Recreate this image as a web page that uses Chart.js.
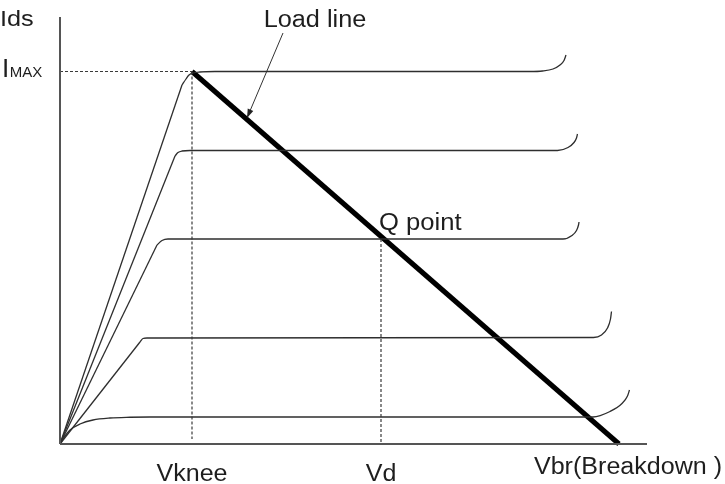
<!DOCTYPE html>
<html>
<head>
<meta charset="utf-8">
<script src="https://cdn.jsdelivr.net/npm/chart.js@4.4.1/dist/chart.umd.min.js"></script>
<style>
  html, body { margin: 0; padding: 0; background: #ffffff; }
  #wrap { width: 725px; height: 484px; }
</style>
</head>
<body>
<div id="wrap"><canvas id="c" width="725" height="484"></canvas></div>
<script>
// ---- Data (arbitrary voltage / current units) ----
const xMax = 117.4;          // drain voltage axis extent
const yMax = 85.4;           // drain current axis extent
const vKnee = 26.4;          // knee voltage
const iMax = 74.5;           // maximum current
const vD = 64.2;             // quiescent drain voltage
const iQ = 41.0;             // quiescent current (Q point level)
const vBr = 111.8;           // breakdown voltage (load line end)

// I-V curves, one per gate voltage: [Vds, Ids]
// linear (ohmic) rise of each curve
const riseTop = [[0,0],[24.4,71.8]];
const rise2   = [[0,0],[23.0,57.6]];
const rise3   = [[0,0],[19.4,39.8]];
const rise4   = [[0,0],[16.0,20.4]];
// knee, saturation plateau and breakdown hook
const satTop = [[24.4,71.8],[25.2,73.0],[25.8,73.8],[26.6,74.2],[28,74.4],[31,74.5],[94,74.5],[96.5,74.6],[98.6,75.0],[100.0,75.8],[100.8,76.7],[101.2,77.8]];
const sat2   = [[23.0,57.6],[23.6,58.3],[24.4,58.6],[26,58.7],[99.5,58.7],[101.6,59.3],[102.8,60.3],[103.3,61.2],[103.5,62.0]];
const sat3   = [[19.4,39.8],[20.4,40.7],[21.6,41.0],[23,41.0],[100.6,41.0],[102.4,41.7],[103.3,42.7],[103.7,43.8],[103.8,44.4]];
const sat4   = [[16.0,20.4],[16.6,21.1],[17.4,21.2],[19,21.2],[106.7,21.3],[108.3,21.8],[109.5,23.2],[110.1,25.0],[110.3,26.5]];
const curve5 = [[0,0],[1,1.6],[2,2.8],[4,4.0],[6.6,4.8],[10,5.2],[14,5.35],[18,5.4],[106.6,5.4],[110,6.5],[112.4,8.1],[113.5,9.6],[113.9,10.8]];

// Annotation arrow for the load line label: [start, end]
const arrowPts = [[44.6,82.2],[37.4,65.2]];

// Texts
const txtIds = "Ids";
const txtImaxI = "I";
const txtImaxSub = "MAX";
const txtLoad = "Load line";
const txtQ = "Q point";
const txtKnee = "Vknee";
const txtVd = "Vd";
const txtBr = "Vbr(Breakdown )";

// ---- Build datasets ----
const toXY = arr => arr.map(p => ({x: p[0], y: p[1]}));
const curveStyle = {
  borderColor: '#2e2e2e', borderWidth: 1.3, pointRadius: 0,
  cubicInterpolationMode: 'monotone', clip: false, fill: false
};
const riseStyle = {
  borderColor: '#2e2e2e', borderWidth: 1.3, pointRadius: 0,
  tension: 0, clip: false, fill: false
};
const dashStyle = {
  borderColor: '#3a3a3a', borderWidth: 1.2, borderDash: [3, 2],
  pointRadius: 0, tension: 0, clip: false, fill: false
};

const datasets = [
  // axes
  {data: toXY([[0,0],[0,yMax]]), borderColor: '#555', borderWidth: 2, pointRadius: 0, clip: false},
  {data: toXY([[0,0],[xMax,0]]), borderColor: '#555', borderWidth: 2, pointRadius: 0, clip: false},
  // dashed guides
  Object.assign({data: toXY([[0,iMax],[vKnee,iMax]])}, dashStyle),
  Object.assign({data: toXY([[vKnee,iMax],[vKnee,1]])}, dashStyle),
  Object.assign({data: toXY([[vD,iQ],[vD,0]])}, dashStyle),
  // I-V curves
  Object.assign({data: toXY(riseTop)}, riseStyle),
  Object.assign({data: toXY(rise2)}, riseStyle),
  Object.assign({data: toXY(rise3)}, riseStyle),
  Object.assign({data: toXY(rise4)}, riseStyle),
  Object.assign({data: toXY(satTop)}, curveStyle),
  Object.assign({data: toXY(sat2)}, curveStyle),
  Object.assign({data: toXY(sat3)}, curveStyle),
  Object.assign({data: toXY(sat4)}, curveStyle),
  Object.assign({data: toXY(curve5)}, curveStyle),
  // load line
  {data: toXY([[vKnee,iMax],[vBr,0]]), borderColor: '#000', borderWidth: 5, pointRadius: 0, borderCapStyle: 'butt', clip: false, tension: 0},
  // arrow shaft
  {data: toXY(arrowPts), borderColor: '#333', borderWidth: 1, pointRadius: 0, clip: false, tension: 0}
];
const arrowIndex = datasets.length - 1;

function drawText(ctx, text, x, y, size, align, sx) {
  ctx.save();
  ctx.font = size + 'px "Liberation Sans", Arial, sans-serif';
  ctx.fillStyle = '#1e1e1e';
  ctx.textBaseline = 'alphabetic';
  ctx.textAlign = 'left';
  const w = ctx.measureText(text).width * sx;
  let left = x;
  if (align === 'center') left = x - w / 2;
  else if (align === 'right') left = x - w;
  ctx.translate(left, y);
  ctx.scale(sx, 1);
  ctx.fillText(text, 0, 0);
  ctx.restore();
  return w;
}

const annotate = {
  id: 'annotate',
  afterDatasetsDraw(chart) {
    const ctx = chart.ctx;
    const xs = chart.scales.x, ys = chart.scales.y;
    // arrowhead
    const meta = chart.getDatasetMeta(arrowIndex);
    const p0 = meta.data[0], p1 = meta.data[1];
    const ang = Math.atan2(p1.y - p0.y, p1.x - p0.x);
    const L = 9, W = 3;
    ctx.save();
    ctx.fillStyle = '#222';
    ctx.beginPath();
    ctx.moveTo(p1.x, p1.y);
    ctx.lineTo(p1.x - L * Math.cos(ang) + W * Math.sin(ang), p1.y - L * Math.sin(ang) - W * Math.cos(ang));
    ctx.lineTo(p1.x - L * Math.cos(ang) - W * Math.sin(ang), p1.y - L * Math.sin(ang) + W * Math.cos(ang));
    ctx.closePath();
    ctx.fill();
    ctx.restore();

    const yTop = ys.getPixelForValue(yMax);
    const yImax = ys.getPixelForValue(iMax);
    const axisY = ys.getPixelForValue(0);
    const sx = 1.09;
    // axis title
    drawText(ctx, txtIds, 0, yTop + 9, 22, 'left', 1.15);
    // IMAX
    const wI = drawText(ctx, txtImaxI, 2, yImax + 5, 26, 'left', 1.0);
    drawText(ctx, txtImaxSub, 2 + wI + 0.5, yImax + 5, 15, 'left', 1.0);
    // Load line label
    drawText(ctx, txtLoad, p0.x + 32, p0.y - 6, 23, 'center', 1.1);
    // Q point
    const qx = xs.getPixelForValue(vD), qy = ys.getPixelForValue(iQ);
    drawText(ctx, txtQ, qx - 2, qy - 9, 23.5, 'left', sx);
    // bottom labels
    drawText(ctx, txtKnee, xs.getPixelForValue(vKnee), axisY + 37, 23, 'center', sx);
    drawText(ctx, txtVd, xs.getPixelForValue(vD), axisY + 37, 23, 'center', sx);
    drawText(ctx, txtBr, xs.getPixelForValue(vBr) + 9, axisY + 30, 23, 'center', sx);
  }
};

new Chart(document.getElementById('c'), {
  type: 'line',
  data: { datasets: datasets },
  options: {
    responsive: false,
    animation: false,
    events: [],
    layout: { padding: { left: 60, right: 78, top: 17, bottom: 40 } },
    plugins: { legend: { display: false }, tooltip: { enabled: false } },
    scales: {
      x: { type: 'linear', min: 0, max: xMax, display: false },
      y: { type: 'linear', min: 0, max: yMax, display: false }
    },
    elements: { line: { fill: false } }
  },
  plugins: [annotate]
});
</script>
</body>
</html>
